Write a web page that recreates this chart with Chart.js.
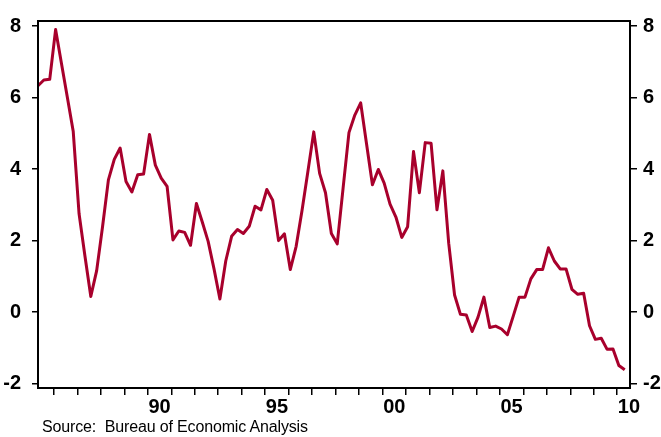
<!DOCTYPE html>
<html lang="en">
<head>
<meta charset="UTF-8">
<title>Quarterly series</title>
<style>
    body {
        margin: 0;
        background: #fff;
    }

    .wrap {
        position: relative;
        width: 661px;
        height: 437px;
    }

    #chart {
        display: block;
    }

    .source {
        position: absolute;
        left: 42px;
        top: 419px;
        font-family: 'Liberation Sans', Arial, sans-serif;
        font-size: 16px;
        line-height: 16px;
        letter-spacing: -0.15px;
        color: #000;
        white-space: nowrap;
    }
</style>
</head>
<body>
<div class="wrap">
    <canvas id="chart" width="661" height="437"></canvas>
    <div class="source">Source:&nbsp; Bureau of Economic Analysis</div>
</div>

<script src="https://cdn.jsdelivr.net/npm/chart.js"></script>
<script>
    // quarterly values, first one is 1985 Q2
    const startYear = 1985;
    const startQuarter = 2;
    const values = [
        6.33, 6.49, 6.51,
        7.90, 6.95, 6.01, 5.06,
        2.75, 1.57, 0.44, 1.16,
        2.39, 3.70, 4.27, 4.59,
        3.65, 3.36, 3.84, 3.86,
        4.97, 4.11, 3.75, 3.52,
        2.02, 2.27, 2.23, 1.87,
        3.04, 2.52, 1.98, 1.21,
        0.37, 1.43, 2.12, 2.31,
        2.20, 2.40, 2.96, 2.86,
        3.43, 3.13, 2.00, 2.19,
        1.19, 1.84, 2.84, 3.93,
        5.04, 3.88, 3.34, 2.20,
        1.91, 3.47, 5.02, 5.51,
        5.85, 4.70, 3.56, 3.99,
        3.61, 3.02, 2.66, 2.09,
        2.39, 4.49, 3.34, 4.74,
        4.72, 2.86, 3.95, 1.93,
        0.48, -0.06, -0.08, -0.54,
        -0.14, 0.42, -0.43, -0.39,
        -0.47, -0.63, -0.11, 0.42,
        0.42, 0.93, 1.19, 1.19,
        1.80, 1.43, 1.21, 1.21,
        0.64, 0.50, 0.53, -0.38,
        -0.76, -0.73, -1.04, -1.03,
        -1.49, -1.61
    ];
    const labeledYears = [1990, 1995, 2000, 2005, 2010];
    const yTicks = [-2, 0, 2, 4, 6, 8];

    // year boundary tick marks 1986..2010
    const tickYears = [];
    for (let y = 1986; y <= 2010; y++) tickYears.push(y);

    const points = values.map((v, i) => {
        const n = startQuarter - 1 + i;
        const year = startYear + Math.floor(n / 4);
        const q = n % 4;
        return { x: year + q / 4 + 0.07, y: v };
    });

    const tickFont = {
        family: "'Liberation Sans', Arial, sans-serif",
        size: 20,
        weight: 'bold',
        lineHeight: 1
    };

    const xMin = 1985.32;
    const xMax = 2010.545;
    const yMin = -2.12;
    const yMax = 8.14;

    // black frame round the plot area
    const frame = {
        id: 'frame',
        afterDraw(chart) {
            const { ctx, chartArea: a } = chart;
            ctx.save();
            ctx.strokeStyle = '#000';
            ctx.lineWidth = 2;
            ctx.strokeRect(a.left, a.top, a.right - a.left, a.bottom - a.top);
            ctx.restore();
        }
    };

    function yAxis(position, width, padding, tickLength) {
        return {
            type: 'linear',
            position: position,
            min: yMin,
            max: yMax,
            afterBuildTicks: (scale) => {
                scale.ticks = yTicks.map(v => ({ value: v }));
            },
            afterFit: (scale) => { scale.width = width; },
            grid: {
                drawOnChartArea: false,
                drawTicks: true,
                tickLength: tickLength,
                color: '#000',
                lineWidth: 1.5
            },
            border: { display: false },
            ticks: {
                color: '#000',
                font: tickFont,
                padding: padding
            }
        };
    }

    new Chart(document.getElementById('chart'), {
        type: 'line',
        data: {
            datasets: [{
                data: points,
                borderColor: '#A8002C',
                borderWidth: 3,
                pointRadius: 0,
                tension: 0,
                borderJoinStyle: 'round',
                yAxisID: 'y'
            }]
        },
        options: {
            responsive: false,
            animation: false,
            layout: { padding: { top: 11, left: 0, right: 0, bottom: 0 } },
            plugins: {
                legend: { display: false },
                tooltip: { enabled: false }
            },
            scales: {
                x: {
                    type: 'linear',
                    min: xMin,
                    max: xMax,
                    afterBuildTicks: (scale) => {
                        const t = tickYears.map(v => ({ value: v }));
                        labeledYears.forEach(y => t.push({ value: y + 0.5 }));
                        t.sort((a, b) => a.value - b.value);
                        scale.ticks = t;
                    },
                    afterFit: (scale) => { scale.height = 49; },
                    grid: {
                        drawOnChartArea: false,
                        drawTicks: true,
                        tickLength: 7,
                        lineWidth: 1.5,
                        color: '#000',
                        tickColor: (ctx) => (ctx.tick && Number.isInteger(ctx.tick.value)) ? '#000' : 'rgba(0,0,0,0)'
                    },
                    border: { display: false },
                    ticks: {
                        autoSkip: false,
                        maxRotation: 0,
                        minRotation: 0,
                        padding: 2,
                        color: '#000',
                        font: tickFont,
                        callback: (value) => {
                            const y = Math.round(value - 0.5);
                            if (Number.isInteger(value) || !labeledYears.includes(y)) return '';
                            return String(y).slice(-2);
                        }
                    }
                },
                y: yAxis('left', 38, 11, 6),
                y2: yAxis('right', 31, 6, 7)
            }
        },
        plugins: [frame]
    });
</script>
</body>
</html>
